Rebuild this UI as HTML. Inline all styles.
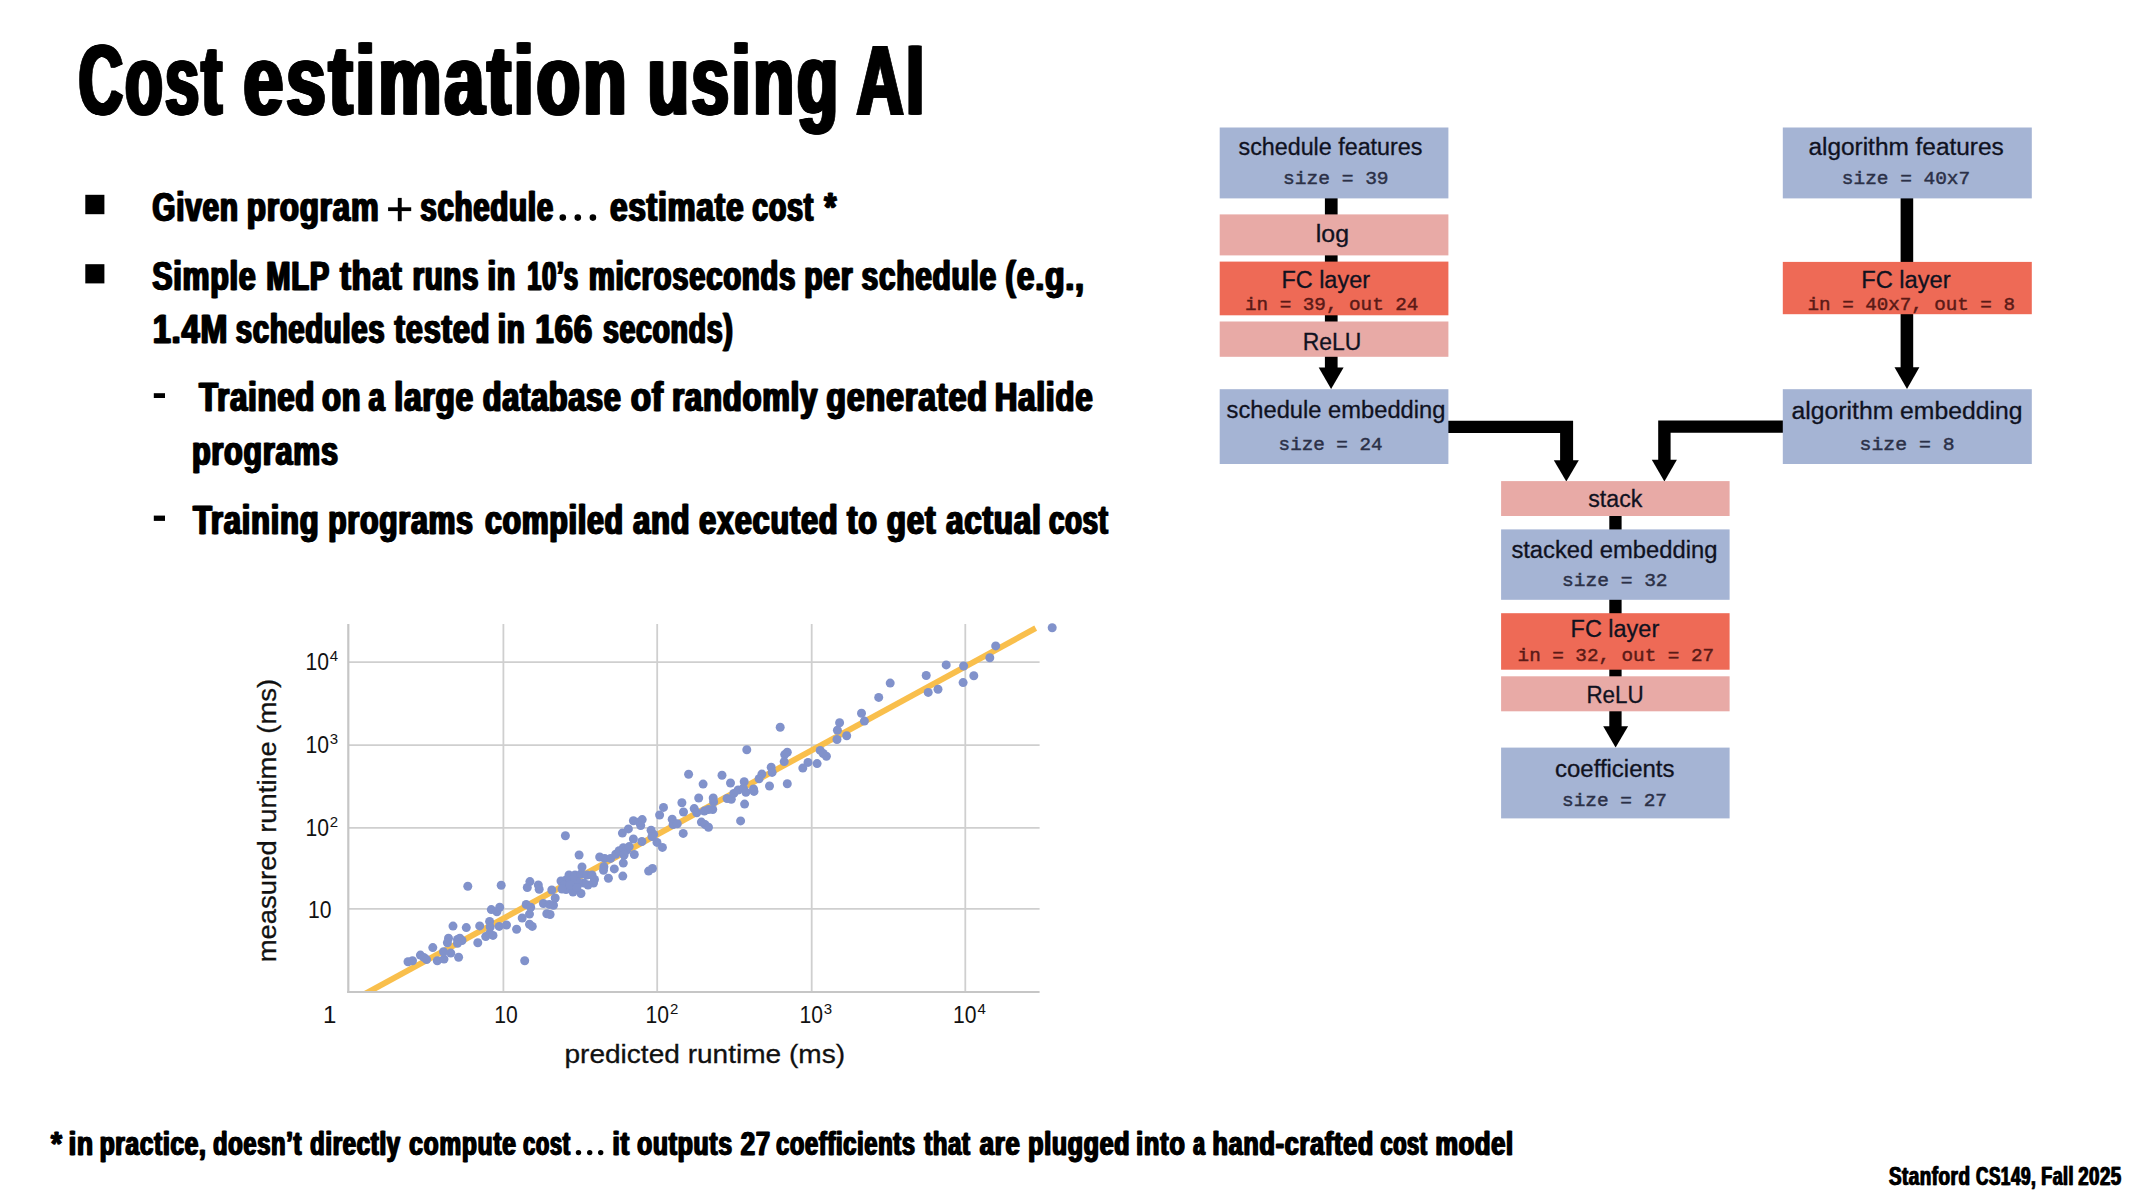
<!DOCTYPE html>
<html><head><meta charset="utf-8"><title>Cost estimation using AI</title>
<style>
html,body{margin:0;padding:0;background:#fff;}
body{width:2133px;height:1200px;overflow:hidden;font-family:"Liberation Sans", sans-serif;}
svg{display:block;}
text{white-space:pre;}
</style></head>
<body>
<svg width="2133" height="1200" viewBox="0 0 2133 1200">
<rect width="2133" height="1200" fill="#fff"/>
<text transform="translate(77.00,114.4) scale(0.6232,1)" font-family='"Liberation Sans", sans-serif' font-size="98" font-weight="bold" letter-spacing="4" fill="#000" stroke="#000" stroke-width="1.0" stroke-linejoin="miter">Cost</text>
<text transform="translate(77.85,114.4) scale(0.6232,1)" font-family='"Liberation Sans", sans-serif' font-size="98" font-weight="bold" letter-spacing="4" fill="#000" stroke="#000" stroke-width="1.0" stroke-linejoin="miter">Cost</text>
<text transform="translate(78.70,114.4) scale(0.6232,1)" font-family='"Liberation Sans", sans-serif' font-size="98" font-weight="bold" letter-spacing="4" fill="#000" stroke="#000" stroke-width="1.0" stroke-linejoin="miter">Cost</text>
<text transform="translate(79.55,114.4) scale(0.6232,1)" font-family='"Liberation Sans", sans-serif' font-size="98" font-weight="bold" letter-spacing="4" fill="#000" stroke="#000" stroke-width="1.0" stroke-linejoin="miter">Cost</text>
<text transform="translate(80.40,114.4) scale(0.6232,1)" font-family='"Liberation Sans", sans-serif' font-size="98" font-weight="bold" letter-spacing="4" fill="#000" stroke="#000" stroke-width="1.0" stroke-linejoin="miter">Cost</text>
<text transform="translate(241.80,114.4) scale(0.7284,1)" font-family='"Liberation Sans", sans-serif' font-size="98" font-weight="bold" letter-spacing="4" fill="#000" stroke="#000" stroke-width="1.0" stroke-linejoin="miter">estimation</text>
<text transform="translate(242.65,114.4) scale(0.7284,1)" font-family='"Liberation Sans", sans-serif' font-size="98" font-weight="bold" letter-spacing="4" fill="#000" stroke="#000" stroke-width="1.0" stroke-linejoin="miter">estimation</text>
<text transform="translate(243.50,114.4) scale(0.7284,1)" font-family='"Liberation Sans", sans-serif' font-size="98" font-weight="bold" letter-spacing="4" fill="#000" stroke="#000" stroke-width="1.0" stroke-linejoin="miter">estimation</text>
<text transform="translate(244.35,114.4) scale(0.7284,1)" font-family='"Liberation Sans", sans-serif' font-size="98" font-weight="bold" letter-spacing="4" fill="#000" stroke="#000" stroke-width="1.0" stroke-linejoin="miter">estimation</text>
<text transform="translate(245.20,114.4) scale(0.7284,1)" font-family='"Liberation Sans", sans-serif' font-size="98" font-weight="bold" letter-spacing="4" fill="#000" stroke="#000" stroke-width="1.0" stroke-linejoin="miter">estimation</text>
<text transform="translate(646.00,114.4) scale(0.6866,1)" font-family='"Liberation Sans", sans-serif' font-size="98" font-weight="bold" letter-spacing="4" fill="#000" stroke="#000" stroke-width="1.0" stroke-linejoin="miter">using</text>
<text transform="translate(646.85,114.4) scale(0.6866,1)" font-family='"Liberation Sans", sans-serif' font-size="98" font-weight="bold" letter-spacing="4" fill="#000" stroke="#000" stroke-width="1.0" stroke-linejoin="miter">using</text>
<text transform="translate(647.70,114.4) scale(0.6866,1)" font-family='"Liberation Sans", sans-serif' font-size="98" font-weight="bold" letter-spacing="4" fill="#000" stroke="#000" stroke-width="1.0" stroke-linejoin="miter">using</text>
<text transform="translate(648.55,114.4) scale(0.6866,1)" font-family='"Liberation Sans", sans-serif' font-size="98" font-weight="bold" letter-spacing="4" fill="#000" stroke="#000" stroke-width="1.0" stroke-linejoin="miter">using</text>
<text transform="translate(649.40,114.4) scale(0.6866,1)" font-family='"Liberation Sans", sans-serif' font-size="98" font-weight="bold" letter-spacing="4" fill="#000" stroke="#000" stroke-width="1.0" stroke-linejoin="miter">using</text>
<text transform="translate(855.00,114.4) scale(0.6608,1)" font-family='"Liberation Sans", sans-serif' font-size="98" font-weight="bold" letter-spacing="4" fill="#000" stroke="#000" stroke-width="1.0" stroke-linejoin="miter">AI</text>
<text transform="translate(855.85,114.4) scale(0.6608,1)" font-family='"Liberation Sans", sans-serif' font-size="98" font-weight="bold" letter-spacing="4" fill="#000" stroke="#000" stroke-width="1.0" stroke-linejoin="miter">AI</text>
<text transform="translate(856.70,114.4) scale(0.6608,1)" font-family='"Liberation Sans", sans-serif' font-size="98" font-weight="bold" letter-spacing="4" fill="#000" stroke="#000" stroke-width="1.0" stroke-linejoin="miter">AI</text>
<text transform="translate(857.55,114.4) scale(0.6608,1)" font-family='"Liberation Sans", sans-serif' font-size="98" font-weight="bold" letter-spacing="4" fill="#000" stroke="#000" stroke-width="1.0" stroke-linejoin="miter">AI</text>
<text transform="translate(858.40,114.4) scale(0.6608,1)" font-family='"Liberation Sans", sans-serif' font-size="98" font-weight="bold" letter-spacing="4" fill="#000" stroke="#000" stroke-width="1.0" stroke-linejoin="miter">AI</text>
<rect x="85.3" y="194.8" width="19.1" height="19.4" fill="#000"/>
<rect x="85.3" y="264.2" width="19.1" height="19.2" fill="#000"/>
<text transform="translate(151.60,220.8) scale(0.7201,1)" font-family='"Liberation Sans", sans-serif' font-size="41" font-weight="bold" letter-spacing="1.2" fill="#000" stroke="#000" stroke-width="0.5" stroke-linejoin="miter">Given</text>
<text transform="translate(152.45,220.8) scale(0.7201,1)" font-family='"Liberation Sans", sans-serif' font-size="41" font-weight="bold" letter-spacing="1.2" fill="#000" stroke="#000" stroke-width="0.5" stroke-linejoin="miter">Given</text>
<text transform="translate(153.30,220.8) scale(0.7201,1)" font-family='"Liberation Sans", sans-serif' font-size="41" font-weight="bold" letter-spacing="1.2" fill="#000" stroke="#000" stroke-width="0.5" stroke-linejoin="miter">Given</text>
<text transform="translate(246.00,220.8) scale(0.7602,1)" font-family='"Liberation Sans", sans-serif' font-size="41" font-weight="bold" letter-spacing="1.2" fill="#000" stroke="#000" stroke-width="0.5" stroke-linejoin="miter">program</text>
<text transform="translate(246.85,220.8) scale(0.7602,1)" font-family='"Liberation Sans", sans-serif' font-size="41" font-weight="bold" letter-spacing="1.2" fill="#000" stroke="#000" stroke-width="0.5" stroke-linejoin="miter">program</text>
<text transform="translate(247.70,220.8) scale(0.7602,1)" font-family='"Liberation Sans", sans-serif' font-size="41" font-weight="bold" letter-spacing="1.2" fill="#000" stroke="#000" stroke-width="0.5" stroke-linejoin="miter">program</text>
<text transform="translate(419.60,220.8) scale(0.7129,1)" font-family='"Liberation Sans", sans-serif' font-size="41" font-weight="bold" letter-spacing="1.2" fill="#000" stroke="#000" stroke-width="0.5" stroke-linejoin="miter">schedule</text>
<text transform="translate(420.45,220.8) scale(0.7129,1)" font-family='"Liberation Sans", sans-serif' font-size="41" font-weight="bold" letter-spacing="1.2" fill="#000" stroke="#000" stroke-width="0.5" stroke-linejoin="miter">schedule</text>
<text transform="translate(421.30,220.8) scale(0.7129,1)" font-family='"Liberation Sans", sans-serif' font-size="41" font-weight="bold" letter-spacing="1.2" fill="#000" stroke="#000" stroke-width="0.5" stroke-linejoin="miter">schedule</text>
<text transform="translate(609.20,220.8) scale(0.7639,1)" font-family='"Liberation Sans", sans-serif' font-size="41" font-weight="bold" letter-spacing="1.2" fill="#000" stroke="#000" stroke-width="0.5" stroke-linejoin="miter">estimate</text>
<text transform="translate(610.05,220.8) scale(0.7639,1)" font-family='"Liberation Sans", sans-serif' font-size="41" font-weight="bold" letter-spacing="1.2" fill="#000" stroke="#000" stroke-width="0.5" stroke-linejoin="miter">estimate</text>
<text transform="translate(610.90,220.8) scale(0.7639,1)" font-family='"Liberation Sans", sans-serif' font-size="41" font-weight="bold" letter-spacing="1.2" fill="#000" stroke="#000" stroke-width="0.5" stroke-linejoin="miter">estimate</text>
<text transform="translate(751.40,220.8) scale(0.6939,1)" font-family='"Liberation Sans", sans-serif' font-size="41" font-weight="bold" letter-spacing="1.2" fill="#000" stroke="#000" stroke-width="0.5" stroke-linejoin="miter">cost</text>
<text transform="translate(752.25,220.8) scale(0.6939,1)" font-family='"Liberation Sans", sans-serif' font-size="41" font-weight="bold" letter-spacing="1.2" fill="#000" stroke="#000" stroke-width="0.5" stroke-linejoin="miter">cost</text>
<text transform="translate(753.10,220.8) scale(0.6939,1)" font-family='"Liberation Sans", sans-serif' font-size="41" font-weight="bold" letter-spacing="1.2" fill="#000" stroke="#000" stroke-width="0.5" stroke-linejoin="miter">cost</text>
<text transform="translate(823.50,220.8) scale(0.7458,1)" font-family='"Liberation Sans", sans-serif' font-size="41" font-weight="bold" letter-spacing="1.2" fill="#000" stroke="#000" stroke-width="0.5" stroke-linejoin="miter">*</text>
<text transform="translate(824.35,220.8) scale(0.7458,1)" font-family='"Liberation Sans", sans-serif' font-size="41" font-weight="bold" letter-spacing="1.2" fill="#000" stroke="#000" stroke-width="0.5" stroke-linejoin="miter">*</text>
<text transform="translate(825.20,220.8) scale(0.7458,1)" font-family='"Liberation Sans", sans-serif' font-size="41" font-weight="bold" letter-spacing="1.2" fill="#000" stroke="#000" stroke-width="0.5" stroke-linejoin="miter">*</text>
<text transform="translate(151.60,290.4) scale(0.7348,1)" font-family='"Liberation Sans", sans-serif' font-size="41" font-weight="bold" letter-spacing="1.2" fill="#000" stroke="#000" stroke-width="0.5" stroke-linejoin="miter">Simple</text>
<text transform="translate(152.45,290.4) scale(0.7348,1)" font-family='"Liberation Sans", sans-serif' font-size="41" font-weight="bold" letter-spacing="1.2" fill="#000" stroke="#000" stroke-width="0.5" stroke-linejoin="miter">Simple</text>
<text transform="translate(153.30,290.4) scale(0.7348,1)" font-family='"Liberation Sans", sans-serif' font-size="41" font-weight="bold" letter-spacing="1.2" fill="#000" stroke="#000" stroke-width="0.5" stroke-linejoin="miter">Simple</text>
<text transform="translate(265.60,290.4) scale(0.7048,1)" font-family='"Liberation Sans", sans-serif' font-size="41" font-weight="bold" letter-spacing="1.2" fill="#000" stroke="#000" stroke-width="0.5" stroke-linejoin="miter">MLP</text>
<text transform="translate(266.45,290.4) scale(0.7048,1)" font-family='"Liberation Sans", sans-serif' font-size="41" font-weight="bold" letter-spacing="1.2" fill="#000" stroke="#000" stroke-width="0.5" stroke-linejoin="miter">MLP</text>
<text transform="translate(267.30,290.4) scale(0.7048,1)" font-family='"Liberation Sans", sans-serif' font-size="41" font-weight="bold" letter-spacing="1.2" fill="#000" stroke="#000" stroke-width="0.5" stroke-linejoin="miter">MLP</text>
<text transform="translate(339.20,290.4) scale(0.7833,1)" font-family='"Liberation Sans", sans-serif' font-size="41" font-weight="bold" letter-spacing="1.2" fill="#000" stroke="#000" stroke-width="0.5" stroke-linejoin="miter">that</text>
<text transform="translate(340.05,290.4) scale(0.7833,1)" font-family='"Liberation Sans", sans-serif' font-size="41" font-weight="bold" letter-spacing="1.2" fill="#000" stroke="#000" stroke-width="0.5" stroke-linejoin="miter">that</text>
<text transform="translate(340.90,290.4) scale(0.7833,1)" font-family='"Liberation Sans", sans-serif' font-size="41" font-weight="bold" letter-spacing="1.2" fill="#000" stroke="#000" stroke-width="0.5" stroke-linejoin="miter">that</text>
<text transform="translate(411.80,290.4) scale(0.7106,1)" font-family='"Liberation Sans", sans-serif' font-size="41" font-weight="bold" letter-spacing="1.2" fill="#000" stroke="#000" stroke-width="0.5" stroke-linejoin="miter">runs</text>
<text transform="translate(412.65,290.4) scale(0.7106,1)" font-family='"Liberation Sans", sans-serif' font-size="41" font-weight="bold" letter-spacing="1.2" fill="#000" stroke="#000" stroke-width="0.5" stroke-linejoin="miter">runs</text>
<text transform="translate(413.50,290.4) scale(0.7106,1)" font-family='"Liberation Sans", sans-serif' font-size="41" font-weight="bold" letter-spacing="1.2" fill="#000" stroke="#000" stroke-width="0.5" stroke-linejoin="miter">runs</text>
<text transform="translate(486.80,290.4) scale(0.7305,1)" font-family='"Liberation Sans", sans-serif' font-size="41" font-weight="bold" letter-spacing="1.2" fill="#000" stroke="#000" stroke-width="0.5" stroke-linejoin="miter">in</text>
<text transform="translate(487.65,290.4) scale(0.7305,1)" font-family='"Liberation Sans", sans-serif' font-size="41" font-weight="bold" letter-spacing="1.2" fill="#000" stroke="#000" stroke-width="0.5" stroke-linejoin="miter">in</text>
<text transform="translate(488.50,290.4) scale(0.7305,1)" font-family='"Liberation Sans", sans-serif' font-size="41" font-weight="bold" letter-spacing="1.2" fill="#000" stroke="#000" stroke-width="0.5" stroke-linejoin="miter">in</text>
<text transform="translate(526.40,290.4) scale(0.6192,1)" font-family='"Liberation Sans", sans-serif' font-size="41" font-weight="bold" letter-spacing="1.2" fill="#000" stroke="#000" stroke-width="0.5" stroke-linejoin="miter">10’s</text>
<text transform="translate(527.25,290.4) scale(0.6192,1)" font-family='"Liberation Sans", sans-serif' font-size="41" font-weight="bold" letter-spacing="1.2" fill="#000" stroke="#000" stroke-width="0.5" stroke-linejoin="miter">10’s</text>
<text transform="translate(528.10,290.4) scale(0.6192,1)" font-family='"Liberation Sans", sans-serif' font-size="41" font-weight="bold" letter-spacing="1.2" fill="#000" stroke="#000" stroke-width="0.5" stroke-linejoin="miter">10’s</text>
<text transform="translate(588.00,290.4) scale(0.7091,1)" font-family='"Liberation Sans", sans-serif' font-size="41" font-weight="bold" letter-spacing="1.2" fill="#000" stroke="#000" stroke-width="0.5" stroke-linejoin="miter">microseconds</text>
<text transform="translate(588.85,290.4) scale(0.7091,1)" font-family='"Liberation Sans", sans-serif' font-size="41" font-weight="bold" letter-spacing="1.2" fill="#000" stroke="#000" stroke-width="0.5" stroke-linejoin="miter">microseconds</text>
<text transform="translate(589.70,290.4) scale(0.7091,1)" font-family='"Liberation Sans", sans-serif' font-size="41" font-weight="bold" letter-spacing="1.2" fill="#000" stroke="#000" stroke-width="0.5" stroke-linejoin="miter">microseconds</text>
<text transform="translate(803.60,290.4) scale(0.7235,1)" font-family='"Liberation Sans", sans-serif' font-size="41" font-weight="bold" letter-spacing="1.2" fill="#000" stroke="#000" stroke-width="0.5" stroke-linejoin="miter">per</text>
<text transform="translate(804.45,290.4) scale(0.7235,1)" font-family='"Liberation Sans", sans-serif' font-size="41" font-weight="bold" letter-spacing="1.2" fill="#000" stroke="#000" stroke-width="0.5" stroke-linejoin="miter">per</text>
<text transform="translate(805.30,290.4) scale(0.7235,1)" font-family='"Liberation Sans", sans-serif' font-size="41" font-weight="bold" letter-spacing="1.2" fill="#000" stroke="#000" stroke-width="0.5" stroke-linejoin="miter">per</text>
<text transform="translate(860.80,290.4) scale(0.7226,1)" font-family='"Liberation Sans", sans-serif' font-size="41" font-weight="bold" letter-spacing="1.2" fill="#000" stroke="#000" stroke-width="0.5" stroke-linejoin="miter">schedule</text>
<text transform="translate(861.65,290.4) scale(0.7226,1)" font-family='"Liberation Sans", sans-serif' font-size="41" font-weight="bold" letter-spacing="1.2" fill="#000" stroke="#000" stroke-width="0.5" stroke-linejoin="miter">schedule</text>
<text transform="translate(862.50,290.4) scale(0.7226,1)" font-family='"Liberation Sans", sans-serif' font-size="41" font-weight="bold" letter-spacing="1.2" fill="#000" stroke="#000" stroke-width="0.5" stroke-linejoin="miter">schedule</text>
<text transform="translate(1004.40,290.4) scale(0.7740,1)" font-family='"Liberation Sans", sans-serif' font-size="41" font-weight="bold" letter-spacing="1.2" fill="#000" stroke="#000" stroke-width="0.5" stroke-linejoin="miter">(e.g.,</text>
<text transform="translate(1005.25,290.4) scale(0.7740,1)" font-family='"Liberation Sans", sans-serif' font-size="41" font-weight="bold" letter-spacing="1.2" fill="#000" stroke="#000" stroke-width="0.5" stroke-linejoin="miter">(e.g.,</text>
<text transform="translate(1006.10,290.4) scale(0.7740,1)" font-family='"Liberation Sans", sans-serif' font-size="41" font-weight="bold" letter-spacing="1.2" fill="#000" stroke="#000" stroke-width="0.5" stroke-linejoin="miter">(e.g.,</text>
<text transform="translate(152.00,343.2) scale(0.7863,1)" font-family='"Liberation Sans", sans-serif' font-size="41" font-weight="bold" letter-spacing="1.2" fill="#000" stroke="#000" stroke-width="0.5" stroke-linejoin="miter">1.4M</text>
<text transform="translate(152.85,343.2) scale(0.7863,1)" font-family='"Liberation Sans", sans-serif' font-size="41" font-weight="bold" letter-spacing="1.2" fill="#000" stroke="#000" stroke-width="0.5" stroke-linejoin="miter">1.4M</text>
<text transform="translate(153.70,343.2) scale(0.7863,1)" font-family='"Liberation Sans", sans-serif' font-size="41" font-weight="bold" letter-spacing="1.2" fill="#000" stroke="#000" stroke-width="0.5" stroke-linejoin="miter">1.4M</text>
<text transform="translate(235.00,343.2) scale(0.7076,1)" font-family='"Liberation Sans", sans-serif' font-size="41" font-weight="bold" letter-spacing="1.2" fill="#000" stroke="#000" stroke-width="0.5" stroke-linejoin="miter">schedules</text>
<text transform="translate(235.85,343.2) scale(0.7076,1)" font-family='"Liberation Sans", sans-serif' font-size="41" font-weight="bold" letter-spacing="1.2" fill="#000" stroke="#000" stroke-width="0.5" stroke-linejoin="miter">schedules</text>
<text transform="translate(236.70,343.2) scale(0.7076,1)" font-family='"Liberation Sans", sans-serif' font-size="41" font-weight="bold" letter-spacing="1.2" fill="#000" stroke="#000" stroke-width="0.5" stroke-linejoin="miter">schedules</text>
<text transform="translate(393.80,343.2) scale(0.7486,1)" font-family='"Liberation Sans", sans-serif' font-size="41" font-weight="bold" letter-spacing="1.2" fill="#000" stroke="#000" stroke-width="0.5" stroke-linejoin="miter">tested</text>
<text transform="translate(394.65,343.2) scale(0.7486,1)" font-family='"Liberation Sans", sans-serif' font-size="41" font-weight="bold" letter-spacing="1.2" fill="#000" stroke="#000" stroke-width="0.5" stroke-linejoin="miter">tested</text>
<text transform="translate(395.50,343.2) scale(0.7486,1)" font-family='"Liberation Sans", sans-serif' font-size="41" font-weight="bold" letter-spacing="1.2" fill="#000" stroke="#000" stroke-width="0.5" stroke-linejoin="miter">tested</text>
<text transform="translate(497.00,343.2) scale(0.7093,1)" font-family='"Liberation Sans", sans-serif' font-size="41" font-weight="bold" letter-spacing="1.2" fill="#000" stroke="#000" stroke-width="0.5" stroke-linejoin="miter">in</text>
<text transform="translate(497.85,343.2) scale(0.7093,1)" font-family='"Liberation Sans", sans-serif' font-size="41" font-weight="bold" letter-spacing="1.2" fill="#000" stroke="#000" stroke-width="0.5" stroke-linejoin="miter">in</text>
<text transform="translate(498.70,343.2) scale(0.7093,1)" font-family='"Liberation Sans", sans-serif' font-size="41" font-weight="bold" letter-spacing="1.2" fill="#000" stroke="#000" stroke-width="0.5" stroke-linejoin="miter">in</text>
<text transform="translate(534.60,343.2) scale(0.8007,1)" font-family='"Liberation Sans", sans-serif' font-size="41" font-weight="bold" letter-spacing="1.2" fill="#000" stroke="#000" stroke-width="0.5" stroke-linejoin="miter">166</text>
<text transform="translate(535.45,343.2) scale(0.8007,1)" font-family='"Liberation Sans", sans-serif' font-size="41" font-weight="bold" letter-spacing="1.2" fill="#000" stroke="#000" stroke-width="0.5" stroke-linejoin="miter">166</text>
<text transform="translate(536.30,343.2) scale(0.8007,1)" font-family='"Liberation Sans", sans-serif' font-size="41" font-weight="bold" letter-spacing="1.2" fill="#000" stroke="#000" stroke-width="0.5" stroke-linejoin="miter">166</text>
<text transform="translate(602.20,343.2) scale(0.6884,1)" font-family='"Liberation Sans", sans-serif' font-size="41" font-weight="bold" letter-spacing="1.2" fill="#000" stroke="#000" stroke-width="0.5" stroke-linejoin="miter">seconds)</text>
<text transform="translate(603.05,343.2) scale(0.6884,1)" font-family='"Liberation Sans", sans-serif' font-size="41" font-weight="bold" letter-spacing="1.2" fill="#000" stroke="#000" stroke-width="0.5" stroke-linejoin="miter">seconds)</text>
<text transform="translate(603.90,343.2) scale(0.6884,1)" font-family='"Liberation Sans", sans-serif' font-size="41" font-weight="bold" letter-spacing="1.2" fill="#000" stroke="#000" stroke-width="0.5" stroke-linejoin="miter">seconds)</text>
<rect x="388.1" y="207.3" width="23.1" height="3.8" fill="#000"/>
<rect x="397.8" y="197.9" width="3.9" height="23.3" fill="#000"/>
<circle cx="562.8" cy="217.6" r="3.3" fill="#000"/>
<circle cx="577.8" cy="217.6" r="3.3" fill="#000"/>
<circle cx="592.9" cy="217.6" r="3.3" fill="#000"/>
<circle cx="578.5" cy="1152.6" r="2.7" fill="#000"/>
<circle cx="589.7" cy="1152.6" r="2.7" fill="#000"/>
<circle cx="600.7" cy="1152.6" r="2.7" fill="#000"/>
<rect x="153.8" y="393.2" width="11.2" height="4.8" fill="#000"/>
<text transform="translate(198.30,411.2) scale(0.7528,1)" font-family='"Liberation Sans", sans-serif' font-size="41" font-weight="bold" letter-spacing="1.2" fill="#000" stroke="#000" stroke-width="0.5" stroke-linejoin="miter">Trained</text>
<text transform="translate(199.15,411.2) scale(0.7528,1)" font-family='"Liberation Sans", sans-serif' font-size="41" font-weight="bold" letter-spacing="1.2" fill="#000" stroke="#000" stroke-width="0.5" stroke-linejoin="miter">Trained</text>
<text transform="translate(200.00,411.2) scale(0.7528,1)" font-family='"Liberation Sans", sans-serif' font-size="41" font-weight="bold" letter-spacing="1.2" fill="#000" stroke="#000" stroke-width="0.5" stroke-linejoin="miter">Trained</text>
<text transform="translate(321.20,411.2) scale(0.7505,1)" font-family='"Liberation Sans", sans-serif' font-size="41" font-weight="bold" letter-spacing="1.2" fill="#000" stroke="#000" stroke-width="0.5" stroke-linejoin="miter">on</text>
<text transform="translate(322.05,411.2) scale(0.7505,1)" font-family='"Liberation Sans", sans-serif' font-size="41" font-weight="bold" letter-spacing="1.2" fill="#000" stroke="#000" stroke-width="0.5" stroke-linejoin="miter">on</text>
<text transform="translate(322.90,411.2) scale(0.7505,1)" font-family='"Liberation Sans", sans-serif' font-size="41" font-weight="bold" letter-spacing="1.2" fill="#000" stroke="#000" stroke-width="0.5" stroke-linejoin="miter">on</text>
<text transform="translate(367.80,411.2) scale(0.7013,1)" font-family='"Liberation Sans", sans-serif' font-size="41" font-weight="bold" letter-spacing="1.2" fill="#000" stroke="#000" stroke-width="0.5" stroke-linejoin="miter">a</text>
<text transform="translate(368.65,411.2) scale(0.7013,1)" font-family='"Liberation Sans", sans-serif' font-size="41" font-weight="bold" letter-spacing="1.2" fill="#000" stroke="#000" stroke-width="0.5" stroke-linejoin="miter">a</text>
<text transform="translate(369.50,411.2) scale(0.7013,1)" font-family='"Liberation Sans", sans-serif' font-size="41" font-weight="bold" letter-spacing="1.2" fill="#000" stroke="#000" stroke-width="0.5" stroke-linejoin="miter">a</text>
<text transform="translate(393.60,411.2) scale(0.7656,1)" font-family='"Liberation Sans", sans-serif' font-size="41" font-weight="bold" letter-spacing="1.2" fill="#000" stroke="#000" stroke-width="0.5" stroke-linejoin="miter">large</text>
<text transform="translate(394.45,411.2) scale(0.7656,1)" font-family='"Liberation Sans", sans-serif' font-size="41" font-weight="bold" letter-spacing="1.2" fill="#000" stroke="#000" stroke-width="0.5" stroke-linejoin="miter">large</text>
<text transform="translate(395.30,411.2) scale(0.7656,1)" font-family='"Liberation Sans", sans-serif' font-size="41" font-weight="bold" letter-spacing="1.2" fill="#000" stroke="#000" stroke-width="0.5" stroke-linejoin="miter">large</text>
<text transform="translate(482.00,411.2) scale(0.7413,1)" font-family='"Liberation Sans", sans-serif' font-size="41" font-weight="bold" letter-spacing="1.2" fill="#000" stroke="#000" stroke-width="0.5" stroke-linejoin="miter">database</text>
<text transform="translate(482.85,411.2) scale(0.7413,1)" font-family='"Liberation Sans", sans-serif' font-size="41" font-weight="bold" letter-spacing="1.2" fill="#000" stroke="#000" stroke-width="0.5" stroke-linejoin="miter">database</text>
<text transform="translate(483.70,411.2) scale(0.7413,1)" font-family='"Liberation Sans", sans-serif' font-size="41" font-weight="bold" letter-spacing="1.2" fill="#000" stroke="#000" stroke-width="0.5" stroke-linejoin="miter">database</text>
<text transform="translate(630.00,411.2) scale(0.8043,1)" font-family='"Liberation Sans", sans-serif' font-size="41" font-weight="bold" letter-spacing="1.2" fill="#000" stroke="#000" stroke-width="0.5" stroke-linejoin="miter">of</text>
<text transform="translate(630.85,411.2) scale(0.8043,1)" font-family='"Liberation Sans", sans-serif' font-size="41" font-weight="bold" letter-spacing="1.2" fill="#000" stroke="#000" stroke-width="0.5" stroke-linejoin="miter">of</text>
<text transform="translate(631.70,411.2) scale(0.8043,1)" font-family='"Liberation Sans", sans-serif' font-size="41" font-weight="bold" letter-spacing="1.2" fill="#000" stroke="#000" stroke-width="0.5" stroke-linejoin="miter">of</text>
<text transform="translate(671.20,411.2) scale(0.7531,1)" font-family='"Liberation Sans", sans-serif' font-size="41" font-weight="bold" letter-spacing="1.2" fill="#000" stroke="#000" stroke-width="0.5" stroke-linejoin="miter">randomly</text>
<text transform="translate(672.05,411.2) scale(0.7531,1)" font-family='"Liberation Sans", sans-serif' font-size="41" font-weight="bold" letter-spacing="1.2" fill="#000" stroke="#000" stroke-width="0.5" stroke-linejoin="miter">randomly</text>
<text transform="translate(672.90,411.2) scale(0.7531,1)" font-family='"Liberation Sans", sans-serif' font-size="41" font-weight="bold" letter-spacing="1.2" fill="#000" stroke="#000" stroke-width="0.5" stroke-linejoin="miter">randomly</text>
<text transform="translate(825.60,411.2) scale(0.7808,1)" font-family='"Liberation Sans", sans-serif' font-size="41" font-weight="bold" letter-spacing="1.2" fill="#000" stroke="#000" stroke-width="0.5" stroke-linejoin="miter">generated</text>
<text transform="translate(826.45,411.2) scale(0.7808,1)" font-family='"Liberation Sans", sans-serif' font-size="41" font-weight="bold" letter-spacing="1.2" fill="#000" stroke="#000" stroke-width="0.5" stroke-linejoin="miter">generated</text>
<text transform="translate(827.30,411.2) scale(0.7808,1)" font-family='"Liberation Sans", sans-serif' font-size="41" font-weight="bold" letter-spacing="1.2" fill="#000" stroke="#000" stroke-width="0.5" stroke-linejoin="miter">generated</text>
<text transform="translate(994.00,411.2) scale(0.7586,1)" font-family='"Liberation Sans", sans-serif' font-size="41" font-weight="bold" letter-spacing="1.2" fill="#000" stroke="#000" stroke-width="0.5" stroke-linejoin="miter">Halide</text>
<text transform="translate(994.85,411.2) scale(0.7586,1)" font-family='"Liberation Sans", sans-serif' font-size="41" font-weight="bold" letter-spacing="1.2" fill="#000" stroke="#000" stroke-width="0.5" stroke-linejoin="miter">Halide</text>
<text transform="translate(995.70,411.2) scale(0.7586,1)" font-family='"Liberation Sans", sans-serif' font-size="41" font-weight="bold" letter-spacing="1.2" fill="#000" stroke="#000" stroke-width="0.5" stroke-linejoin="miter">Halide</text>
<text transform="translate(191.20,464.6) scale(0.7387,1)" font-family='"Liberation Sans", sans-serif' font-size="41" font-weight="bold" letter-spacing="1.2" fill="#000" stroke="#000" stroke-width="0.5" stroke-linejoin="miter">programs</text>
<text transform="translate(192.05,464.6) scale(0.7387,1)" font-family='"Liberation Sans", sans-serif' font-size="41" font-weight="bold" letter-spacing="1.2" fill="#000" stroke="#000" stroke-width="0.5" stroke-linejoin="miter">programs</text>
<text transform="translate(192.90,464.6) scale(0.7387,1)" font-family='"Liberation Sans", sans-serif' font-size="41" font-weight="bold" letter-spacing="1.2" fill="#000" stroke="#000" stroke-width="0.5" stroke-linejoin="miter">programs</text>
<rect x="153.8" y="515.6" width="11.2" height="5.3" fill="#000"/>
<text transform="translate(192.20,534.4) scale(0.7476,1)" font-family='"Liberation Sans", sans-serif' font-size="41" font-weight="bold" letter-spacing="1.2" fill="#000" stroke="#000" stroke-width="0.5" stroke-linejoin="miter">Training</text>
<text transform="translate(193.05,534.4) scale(0.7476,1)" font-family='"Liberation Sans", sans-serif' font-size="41" font-weight="bold" letter-spacing="1.2" fill="#000" stroke="#000" stroke-width="0.5" stroke-linejoin="miter">Training</text>
<text transform="translate(193.90,534.4) scale(0.7476,1)" font-family='"Liberation Sans", sans-serif' font-size="41" font-weight="bold" letter-spacing="1.2" fill="#000" stroke="#000" stroke-width="0.5" stroke-linejoin="miter">Training</text>
<text transform="translate(327.40,534.4) scale(0.7326,1)" font-family='"Liberation Sans", sans-serif' font-size="41" font-weight="bold" letter-spacing="1.2" fill="#000" stroke="#000" stroke-width="0.5" stroke-linejoin="miter">programs</text>
<text transform="translate(328.25,534.4) scale(0.7326,1)" font-family='"Liberation Sans", sans-serif' font-size="41" font-weight="bold" letter-spacing="1.2" fill="#000" stroke="#000" stroke-width="0.5" stroke-linejoin="miter">programs</text>
<text transform="translate(329.10,534.4) scale(0.7326,1)" font-family='"Liberation Sans", sans-serif' font-size="41" font-weight="bold" letter-spacing="1.2" fill="#000" stroke="#000" stroke-width="0.5" stroke-linejoin="miter">programs</text>
<text transform="translate(484.20,534.4) scale(0.7331,1)" font-family='"Liberation Sans", sans-serif' font-size="41" font-weight="bold" letter-spacing="1.2" fill="#000" stroke="#000" stroke-width="0.5" stroke-linejoin="miter">compiled</text>
<text transform="translate(485.05,534.4) scale(0.7331,1)" font-family='"Liberation Sans", sans-serif' font-size="41" font-weight="bold" letter-spacing="1.2" fill="#000" stroke="#000" stroke-width="0.5" stroke-linejoin="miter">compiled</text>
<text transform="translate(485.90,534.4) scale(0.7331,1)" font-family='"Liberation Sans", sans-serif' font-size="41" font-weight="bold" letter-spacing="1.2" fill="#000" stroke="#000" stroke-width="0.5" stroke-linejoin="miter">compiled</text>
<text transform="translate(632.20,534.4) scale(0.7503,1)" font-family='"Liberation Sans", sans-serif' font-size="41" font-weight="bold" letter-spacing="1.2" fill="#000" stroke="#000" stroke-width="0.5" stroke-linejoin="miter">and</text>
<text transform="translate(633.05,534.4) scale(0.7503,1)" font-family='"Liberation Sans", sans-serif' font-size="41" font-weight="bold" letter-spacing="1.2" fill="#000" stroke="#000" stroke-width="0.5" stroke-linejoin="miter">and</text>
<text transform="translate(633.90,534.4) scale(0.7503,1)" font-family='"Liberation Sans", sans-serif' font-size="41" font-weight="bold" letter-spacing="1.2" fill="#000" stroke="#000" stroke-width="0.5" stroke-linejoin="miter">and</text>
<text transform="translate(698.30,534.4) scale(0.7434,1)" font-family='"Liberation Sans", sans-serif' font-size="41" font-weight="bold" letter-spacing="1.2" fill="#000" stroke="#000" stroke-width="0.5" stroke-linejoin="miter">executed</text>
<text transform="translate(699.15,534.4) scale(0.7434,1)" font-family='"Liberation Sans", sans-serif' font-size="41" font-weight="bold" letter-spacing="1.2" fill="#000" stroke="#000" stroke-width="0.5" stroke-linejoin="miter">executed</text>
<text transform="translate(700.00,534.4) scale(0.7434,1)" font-family='"Liberation Sans", sans-serif' font-size="41" font-weight="bold" letter-spacing="1.2" fill="#000" stroke="#000" stroke-width="0.5" stroke-linejoin="miter">executed</text>
<text transform="translate(846.30,534.4) scale(0.7467,1)" font-family='"Liberation Sans", sans-serif' font-size="41" font-weight="bold" letter-spacing="1.2" fill="#000" stroke="#000" stroke-width="0.5" stroke-linejoin="miter">to</text>
<text transform="translate(847.15,534.4) scale(0.7467,1)" font-family='"Liberation Sans", sans-serif' font-size="41" font-weight="bold" letter-spacing="1.2" fill="#000" stroke="#000" stroke-width="0.5" stroke-linejoin="miter">to</text>
<text transform="translate(848.00,534.4) scale(0.7467,1)" font-family='"Liberation Sans", sans-serif' font-size="41" font-weight="bold" letter-spacing="1.2" fill="#000" stroke="#000" stroke-width="0.5" stroke-linejoin="miter">to</text>
<text transform="translate(886.10,534.4) scale(0.7589,1)" font-family='"Liberation Sans", sans-serif' font-size="41" font-weight="bold" letter-spacing="1.2" fill="#000" stroke="#000" stroke-width="0.5" stroke-linejoin="miter">get</text>
<text transform="translate(886.95,534.4) scale(0.7589,1)" font-family='"Liberation Sans", sans-serif' font-size="41" font-weight="bold" letter-spacing="1.2" fill="#000" stroke="#000" stroke-width="0.5" stroke-linejoin="miter">get</text>
<text transform="translate(887.80,534.4) scale(0.7589,1)" font-family='"Liberation Sans", sans-serif' font-size="41" font-weight="bold" letter-spacing="1.2" fill="#000" stroke="#000" stroke-width="0.5" stroke-linejoin="miter">get</text>
<text transform="translate(945.30,534.4) scale(0.7598,1)" font-family='"Liberation Sans", sans-serif' font-size="41" font-weight="bold" letter-spacing="1.2" fill="#000" stroke="#000" stroke-width="0.5" stroke-linejoin="miter">actual</text>
<text transform="translate(946.15,534.4) scale(0.7598,1)" font-family='"Liberation Sans", sans-serif' font-size="41" font-weight="bold" letter-spacing="1.2" fill="#000" stroke="#000" stroke-width="0.5" stroke-linejoin="miter">actual</text>
<text transform="translate(947.00,534.4) scale(0.7598,1)" font-family='"Liberation Sans", sans-serif' font-size="41" font-weight="bold" letter-spacing="1.2" fill="#000" stroke="#000" stroke-width="0.5" stroke-linejoin="miter">actual</text>
<text transform="translate(1048.20,534.4) scale(0.6700,1)" font-family='"Liberation Sans", sans-serif' font-size="41" font-weight="bold" letter-spacing="1.2" fill="#000" stroke="#000" stroke-width="0.5" stroke-linejoin="miter">cost</text>
<text transform="translate(1049.05,534.4) scale(0.6700,1)" font-family='"Liberation Sans", sans-serif' font-size="41" font-weight="bold" letter-spacing="1.2" fill="#000" stroke="#000" stroke-width="0.5" stroke-linejoin="miter">cost</text>
<text transform="translate(1049.90,534.4) scale(0.6700,1)" font-family='"Liberation Sans", sans-serif' font-size="41" font-weight="bold" letter-spacing="1.2" fill="#000" stroke="#000" stroke-width="0.5" stroke-linejoin="miter">cost</text>
<text transform="translate(50.20,1155.3) scale(0.8770,1)" font-family='"Liberation Sans", sans-serif' font-size="32.5" font-weight="bold" letter-spacing="1.0" fill="#000" stroke="#000" stroke-width="0.4" stroke-linejoin="miter">*</text>
<text transform="translate(50.90,1155.3) scale(0.8770,1)" font-family='"Liberation Sans", sans-serif' font-size="32.5" font-weight="bold" letter-spacing="1.0" fill="#000" stroke="#000" stroke-width="0.4" stroke-linejoin="miter">*</text>
<text transform="translate(51.60,1155.3) scale(0.8770,1)" font-family='"Liberation Sans", sans-serif' font-size="32.5" font-weight="bold" letter-spacing="1.0" fill="#000" stroke="#000" stroke-width="0.4" stroke-linejoin="miter">*</text>
<text transform="translate(68.00,1155.3) scale(0.8163,1)" font-family='"Liberation Sans", sans-serif' font-size="32.5" font-weight="bold" letter-spacing="1.0" fill="#000" stroke="#000" stroke-width="0.4" stroke-linejoin="miter">in</text>
<text transform="translate(68.70,1155.3) scale(0.8163,1)" font-family='"Liberation Sans", sans-serif' font-size="32.5" font-weight="bold" letter-spacing="1.0" fill="#000" stroke="#000" stroke-width="0.4" stroke-linejoin="miter">in</text>
<text transform="translate(69.40,1155.3) scale(0.8163,1)" font-family='"Liberation Sans", sans-serif' font-size="32.5" font-weight="bold" letter-spacing="1.0" fill="#000" stroke="#000" stroke-width="0.4" stroke-linejoin="miter">in</text>
<text transform="translate(99.00,1155.3) scale(0.7495,1)" font-family='"Liberation Sans", sans-serif' font-size="32.5" font-weight="bold" letter-spacing="1.0" fill="#000" stroke="#000" stroke-width="0.4" stroke-linejoin="miter">practice,</text>
<text transform="translate(99.70,1155.3) scale(0.7495,1)" font-family='"Liberation Sans", sans-serif' font-size="32.5" font-weight="bold" letter-spacing="1.0" fill="#000" stroke="#000" stroke-width="0.4" stroke-linejoin="miter">practice,</text>
<text transform="translate(100.40,1155.3) scale(0.7495,1)" font-family='"Liberation Sans", sans-serif' font-size="32.5" font-weight="bold" letter-spacing="1.0" fill="#000" stroke="#000" stroke-width="0.4" stroke-linejoin="miter">practice,</text>
<text transform="translate(212.40,1155.3) scale(0.7264,1)" font-family='"Liberation Sans", sans-serif' font-size="32.5" font-weight="bold" letter-spacing="1.0" fill="#000" stroke="#000" stroke-width="0.4" stroke-linejoin="miter">doesn’t</text>
<text transform="translate(213.10,1155.3) scale(0.7264,1)" font-family='"Liberation Sans", sans-serif' font-size="32.5" font-weight="bold" letter-spacing="1.0" fill="#000" stroke="#000" stroke-width="0.4" stroke-linejoin="miter">doesn’t</text>
<text transform="translate(213.80,1155.3) scale(0.7264,1)" font-family='"Liberation Sans", sans-serif' font-size="32.5" font-weight="bold" letter-spacing="1.0" fill="#000" stroke="#000" stroke-width="0.4" stroke-linejoin="miter">doesn’t</text>
<text transform="translate(309.40,1155.3) scale(0.7340,1)" font-family='"Liberation Sans", sans-serif' font-size="32.5" font-weight="bold" letter-spacing="1.0" fill="#000" stroke="#000" stroke-width="0.4" stroke-linejoin="miter">directly</text>
<text transform="translate(310.10,1155.3) scale(0.7340,1)" font-family='"Liberation Sans", sans-serif' font-size="32.5" font-weight="bold" letter-spacing="1.0" fill="#000" stroke="#000" stroke-width="0.4" stroke-linejoin="miter">directly</text>
<text transform="translate(310.80,1155.3) scale(0.7340,1)" font-family='"Liberation Sans", sans-serif' font-size="32.5" font-weight="bold" letter-spacing="1.0" fill="#000" stroke="#000" stroke-width="0.4" stroke-linejoin="miter">directly</text>
<text transform="translate(408.60,1155.3) scale(0.7537,1)" font-family='"Liberation Sans", sans-serif' font-size="32.5" font-weight="bold" letter-spacing="1.0" fill="#000" stroke="#000" stroke-width="0.4" stroke-linejoin="miter">compute</text>
<text transform="translate(409.30,1155.3) scale(0.7537,1)" font-family='"Liberation Sans", sans-serif' font-size="32.5" font-weight="bold" letter-spacing="1.0" fill="#000" stroke="#000" stroke-width="0.4" stroke-linejoin="miter">compute</text>
<text transform="translate(410.00,1155.3) scale(0.7537,1)" font-family='"Liberation Sans", sans-serif' font-size="32.5" font-weight="bold" letter-spacing="1.0" fill="#000" stroke="#000" stroke-width="0.4" stroke-linejoin="miter">compute</text>
<text transform="translate(522.40,1155.3) scale(0.6716,1)" font-family='"Liberation Sans", sans-serif' font-size="32.5" font-weight="bold" letter-spacing="1.0" fill="#000" stroke="#000" stroke-width="0.4" stroke-linejoin="miter">cost</text>
<text transform="translate(523.10,1155.3) scale(0.6716,1)" font-family='"Liberation Sans", sans-serif' font-size="32.5" font-weight="bold" letter-spacing="1.0" fill="#000" stroke="#000" stroke-width="0.4" stroke-linejoin="miter">cost</text>
<text transform="translate(523.80,1155.3) scale(0.6716,1)" font-family='"Liberation Sans", sans-serif' font-size="32.5" font-weight="bold" letter-spacing="1.0" fill="#000" stroke="#000" stroke-width="0.4" stroke-linejoin="miter">cost</text>
<text transform="translate(611.80,1155.3) scale(0.8006,1)" font-family='"Liberation Sans", sans-serif' font-size="32.5" font-weight="bold" letter-spacing="1.0" fill="#000" stroke="#000" stroke-width="0.4" stroke-linejoin="miter">it</text>
<text transform="translate(612.50,1155.3) scale(0.8006,1)" font-family='"Liberation Sans", sans-serif' font-size="32.5" font-weight="bold" letter-spacing="1.0" fill="#000" stroke="#000" stroke-width="0.4" stroke-linejoin="miter">it</text>
<text transform="translate(613.20,1155.3) scale(0.8006,1)" font-family='"Liberation Sans", sans-serif' font-size="32.5" font-weight="bold" letter-spacing="1.0" fill="#000" stroke="#000" stroke-width="0.4" stroke-linejoin="miter">it</text>
<text transform="translate(636.40,1155.3) scale(0.7591,1)" font-family='"Liberation Sans", sans-serif' font-size="32.5" font-weight="bold" letter-spacing="1.0" fill="#000" stroke="#000" stroke-width="0.4" stroke-linejoin="miter">outputs</text>
<text transform="translate(637.10,1155.3) scale(0.7591,1)" font-family='"Liberation Sans", sans-serif' font-size="32.5" font-weight="bold" letter-spacing="1.0" fill="#000" stroke="#000" stroke-width="0.4" stroke-linejoin="miter">outputs</text>
<text transform="translate(637.80,1155.3) scale(0.7591,1)" font-family='"Liberation Sans", sans-serif' font-size="32.5" font-weight="bold" letter-spacing="1.0" fill="#000" stroke="#000" stroke-width="0.4" stroke-linejoin="miter">outputs</text>
<text transform="translate(740.10,1155.3) scale(0.7886,1)" font-family='"Liberation Sans", sans-serif' font-size="32.5" font-weight="bold" letter-spacing="1.0" fill="#000" stroke="#000" stroke-width="0.4" stroke-linejoin="miter">27</text>
<text transform="translate(740.80,1155.3) scale(0.7886,1)" font-family='"Liberation Sans", sans-serif' font-size="32.5" font-weight="bold" letter-spacing="1.0" fill="#000" stroke="#000" stroke-width="0.4" stroke-linejoin="miter">27</text>
<text transform="translate(741.50,1155.3) scale(0.7886,1)" font-family='"Liberation Sans", sans-serif' font-size="32.5" font-weight="bold" letter-spacing="1.0" fill="#000" stroke="#000" stroke-width="0.4" stroke-linejoin="miter">27</text>
<text transform="translate(775.40,1155.3) scale(0.7249,1)" font-family='"Liberation Sans", sans-serif' font-size="32.5" font-weight="bold" letter-spacing="1.0" fill="#000" stroke="#000" stroke-width="0.4" stroke-linejoin="miter">coefficients</text>
<text transform="translate(776.10,1155.3) scale(0.7249,1)" font-family='"Liberation Sans", sans-serif' font-size="32.5" font-weight="bold" letter-spacing="1.0" fill="#000" stroke="#000" stroke-width="0.4" stroke-linejoin="miter">coefficients</text>
<text transform="translate(776.80,1155.3) scale(0.7249,1)" font-family='"Liberation Sans", sans-serif' font-size="32.5" font-weight="bold" letter-spacing="1.0" fill="#000" stroke="#000" stroke-width="0.4" stroke-linejoin="miter">coefficients</text>
<text transform="translate(923.50,1155.3) scale(0.7319,1)" font-family='"Liberation Sans", sans-serif' font-size="32.5" font-weight="bold" letter-spacing="1.0" fill="#000" stroke="#000" stroke-width="0.4" stroke-linejoin="miter">that</text>
<text transform="translate(924.20,1155.3) scale(0.7319,1)" font-family='"Liberation Sans", sans-serif' font-size="32.5" font-weight="bold" letter-spacing="1.0" fill="#000" stroke="#000" stroke-width="0.4" stroke-linejoin="miter">that</text>
<text transform="translate(924.90,1155.3) scale(0.7319,1)" font-family='"Liberation Sans", sans-serif' font-size="32.5" font-weight="bold" letter-spacing="1.0" fill="#000" stroke="#000" stroke-width="0.4" stroke-linejoin="miter">that</text>
<text transform="translate(979.00,1155.3) scale(0.7872,1)" font-family='"Liberation Sans", sans-serif' font-size="32.5" font-weight="bold" letter-spacing="1.0" fill="#000" stroke="#000" stroke-width="0.4" stroke-linejoin="miter">are</text>
<text transform="translate(979.70,1155.3) scale(0.7872,1)" font-family='"Liberation Sans", sans-serif' font-size="32.5" font-weight="bold" letter-spacing="1.0" fill="#000" stroke="#000" stroke-width="0.4" stroke-linejoin="miter">are</text>
<text transform="translate(980.40,1155.3) scale(0.7872,1)" font-family='"Liberation Sans", sans-serif' font-size="32.5" font-weight="bold" letter-spacing="1.0" fill="#000" stroke="#000" stroke-width="0.4" stroke-linejoin="miter">are</text>
<text transform="translate(1027.60,1155.3) scale(0.7645,1)" font-family='"Liberation Sans", sans-serif' font-size="32.5" font-weight="bold" letter-spacing="1.0" fill="#000" stroke="#000" stroke-width="0.4" stroke-linejoin="miter">plugged</text>
<text transform="translate(1028.30,1155.3) scale(0.7645,1)" font-family='"Liberation Sans", sans-serif' font-size="32.5" font-weight="bold" letter-spacing="1.0" fill="#000" stroke="#000" stroke-width="0.4" stroke-linejoin="miter">plugged</text>
<text transform="translate(1029.00,1155.3) scale(0.7645,1)" font-family='"Liberation Sans", sans-serif' font-size="32.5" font-weight="bold" letter-spacing="1.0" fill="#000" stroke="#000" stroke-width="0.4" stroke-linejoin="miter">plugged</text>
<text transform="translate(1135.40,1155.3) scale(0.7800,1)" font-family='"Liberation Sans", sans-serif' font-size="32.5" font-weight="bold" letter-spacing="1.0" fill="#000" stroke="#000" stroke-width="0.4" stroke-linejoin="miter">into</text>
<text transform="translate(1136.10,1155.3) scale(0.7800,1)" font-family='"Liberation Sans", sans-serif' font-size="32.5" font-weight="bold" letter-spacing="1.0" fill="#000" stroke="#000" stroke-width="0.4" stroke-linejoin="miter">into</text>
<text transform="translate(1136.80,1155.3) scale(0.7800,1)" font-family='"Liberation Sans", sans-serif' font-size="32.5" font-weight="bold" letter-spacing="1.0" fill="#000" stroke="#000" stroke-width="0.4" stroke-linejoin="miter">into</text>
<text transform="translate(1192.50,1155.3) scale(0.6417,1)" font-family='"Liberation Sans", sans-serif' font-size="32.5" font-weight="bold" letter-spacing="1.0" fill="#000" stroke="#000" stroke-width="0.4" stroke-linejoin="miter">a</text>
<text transform="translate(1193.20,1155.3) scale(0.6417,1)" font-family='"Liberation Sans", sans-serif' font-size="32.5" font-weight="bold" letter-spacing="1.0" fill="#000" stroke="#000" stroke-width="0.4" stroke-linejoin="miter">a</text>
<text transform="translate(1193.90,1155.3) scale(0.6417,1)" font-family='"Liberation Sans", sans-serif' font-size="32.5" font-weight="bold" letter-spacing="1.0" fill="#000" stroke="#000" stroke-width="0.4" stroke-linejoin="miter">a</text>
<text transform="translate(1211.80,1155.3) scale(0.7737,1)" font-family='"Liberation Sans", sans-serif' font-size="32.5" font-weight="bold" letter-spacing="1.0" fill="#000" stroke="#000" stroke-width="0.4" stroke-linejoin="miter">hand-crafted</text>
<text transform="translate(1212.50,1155.3) scale(0.7737,1)" font-family='"Liberation Sans", sans-serif' font-size="32.5" font-weight="bold" letter-spacing="1.0" fill="#000" stroke="#000" stroke-width="0.4" stroke-linejoin="miter">hand-crafted</text>
<text transform="translate(1213.20,1155.3) scale(0.7737,1)" font-family='"Liberation Sans", sans-serif' font-size="32.5" font-weight="bold" letter-spacing="1.0" fill="#000" stroke="#000" stroke-width="0.4" stroke-linejoin="miter">hand-crafted</text>
<text transform="translate(1379.80,1155.3) scale(0.6659,1)" font-family='"Liberation Sans", sans-serif' font-size="32.5" font-weight="bold" letter-spacing="1.0" fill="#000" stroke="#000" stroke-width="0.4" stroke-linejoin="miter">cost</text>
<text transform="translate(1380.50,1155.3) scale(0.6659,1)" font-family='"Liberation Sans", sans-serif' font-size="32.5" font-weight="bold" letter-spacing="1.0" fill="#000" stroke="#000" stroke-width="0.4" stroke-linejoin="miter">cost</text>
<text transform="translate(1381.20,1155.3) scale(0.6659,1)" font-family='"Liberation Sans", sans-serif' font-size="32.5" font-weight="bold" letter-spacing="1.0" fill="#000" stroke="#000" stroke-width="0.4" stroke-linejoin="miter">cost</text>
<text transform="translate(1434.80,1155.3) scale(0.7782,1)" font-family='"Liberation Sans", sans-serif' font-size="32.5" font-weight="bold" letter-spacing="1.0" fill="#000" stroke="#000" stroke-width="0.4" stroke-linejoin="miter">model</text>
<text transform="translate(1435.50,1155.3) scale(0.7782,1)" font-family='"Liberation Sans", sans-serif' font-size="32.5" font-weight="bold" letter-spacing="1.0" fill="#000" stroke="#000" stroke-width="0.4" stroke-linejoin="miter">model</text>
<text transform="translate(1436.20,1155.3) scale(0.7782,1)" font-family='"Liberation Sans", sans-serif' font-size="32.5" font-weight="bold" letter-spacing="1.0" fill="#000" stroke="#000" stroke-width="0.4" stroke-linejoin="miter">model</text>
<text transform="translate(1888.40,1185.4) scale(0.7523,1)" font-family='"Liberation Sans", sans-serif' font-size="25" font-weight="bold" letter-spacing="0.7" fill="#000" stroke="#000" stroke-width="0.3" stroke-linejoin="miter">Stanford</text>
<text transform="translate(1889.40,1185.4) scale(0.7523,1)" font-family='"Liberation Sans", sans-serif' font-size="25" font-weight="bold" letter-spacing="0.7" fill="#000" stroke="#000" stroke-width="0.3" stroke-linejoin="miter">Stanford</text>
<text transform="translate(1975.60,1185.4) scale(0.6859,1)" font-family='"Liberation Sans", sans-serif' font-size="25" font-weight="bold" letter-spacing="0.7" fill="#000" stroke="#000" stroke-width="0.3" stroke-linejoin="miter">CS149,</text>
<text transform="translate(1976.60,1185.4) scale(0.6859,1)" font-family='"Liberation Sans", sans-serif' font-size="25" font-weight="bold" letter-spacing="0.7" fill="#000" stroke="#000" stroke-width="0.3" stroke-linejoin="miter">CS149,</text>
<text transform="translate(2040.80,1185.4) scale(0.7128,1)" font-family='"Liberation Sans", sans-serif' font-size="25" font-weight="bold" letter-spacing="0.7" fill="#000" stroke="#000" stroke-width="0.3" stroke-linejoin="miter">Fall</text>
<text transform="translate(2041.80,1185.4) scale(0.7128,1)" font-family='"Liberation Sans", sans-serif' font-size="25" font-weight="bold" letter-spacing="0.7" fill="#000" stroke="#000" stroke-width="0.3" stroke-linejoin="miter">Fall</text>
<text transform="translate(2077.70,1185.4) scale(0.7432,1)" font-family='"Liberation Sans", sans-serif' font-size="25" font-weight="bold" letter-spacing="0.7" fill="#000" stroke="#000" stroke-width="0.3" stroke-linejoin="miter">2025</text>
<text transform="translate(2078.70,1185.4) scale(0.7432,1)" font-family='"Liberation Sans", sans-serif' font-size="25" font-weight="bold" letter-spacing="0.7" fill="#000" stroke="#000" stroke-width="0.3" stroke-linejoin="miter">2025</text>
<rect x="1324.9" y="190.0" width="12.7" height="178.0" fill="#000"/>
<path d="M1318.7,367.4 L1343.6,367.4 L1331.1,388.9 Z" fill="#000"/>
<rect x="1900.6" y="190.0" width="12.6" height="178.0" fill="#000"/>
<path d="M1894.5,367.2 L1919.4,367.2 L1907,388.9 Z" fill="#000"/>
<path d="M1440,420.8 L1573.1,420.8 L1573.1,461 L1560.1,461 L1560.1,432.9 L1440,432.9 Z" fill="#000"/>
<path d="M1553.8,460.2 L1578.8,460.2 L1566.3,481.4 Z" fill="#000"/>
<path d="M1790,420.6 L1658.2,420.6 L1658.2,461 L1670.6,461 L1670.6,432.8 L1790,432.8 Z" fill="#000"/>
<path d="M1651.8,459.8 L1676.9,459.8 L1664.4,481.4 Z" fill="#000"/>
<rect x="1609.3" y="510.0" width="12.3" height="217.0" fill="#000"/>
<path d="M1603.2,726.2 L1628.1,726.2 L1615.6,747.6 Z" fill="#000"/>
<rect x="1219.7" y="127.5" width="228.7" height="70.9" fill="#A5B4D4"/>
<rect x="1219.7" y="214.4" width="228.7" height="41.0" fill="#E8AAA6"/>
<rect x="1219.7" y="261.6" width="228.7" height="53.7" fill="#EE6A56"/>
<rect x="1219.7" y="321.5" width="228.7" height="35.3" fill="#E8AAA6"/>
<rect x="1219.7" y="389.2" width="228.7" height="74.8" fill="#A5B4D4"/>
<rect x="1782.8" y="127.5" width="249.0" height="70.9" fill="#A5B4D4"/>
<rect x="1782.8" y="261.9" width="249.0" height="52.3" fill="#EE6A56"/>
<rect x="1782.8" y="389.2" width="249.0" height="74.8" fill="#A5B4D4"/>
<rect x="1501.1" y="481.1" width="228.5" height="34.9" fill="#E8AAA6"/>
<rect x="1501.1" y="529.4" width="228.5" height="70.4" fill="#A5B4D4"/>
<rect x="1501.1" y="613.2" width="228.5" height="56.5" fill="#EE6A56"/>
<rect x="1501.1" y="676.3" width="228.5" height="35.0" fill="#E8AAA6"/>
<rect x="1501.1" y="747.6" width="228.5" height="70.8" fill="#A5B4D4"/>
<text x="1238.5" y="155.0" font-family='"Liberation Sans", sans-serif' font-size="23" font-weight="normal" fill="#10121f" textLength="183.9" lengthAdjust="spacingAndGlyphs" stroke="#10121f" stroke-width="0.3">schedule features</text>
<text x="1283.0" y="184.1" font-family='"Liberation Mono", monospace' font-size="19" font-weight="normal" fill="#2b3047" textLength="105.6" lengthAdjust="spacingAndGlyphs" stroke="#2b3047" stroke-width="0.45">size = 39</text>
<text x="1315.8" y="242.3" font-family='"Liberation Sans", sans-serif' font-size="23" font-weight="normal" fill="#10121f" textLength="33.2" lengthAdjust="spacingAndGlyphs" stroke="#10121f" stroke-width="0.3">log</text>
<text x="1281.4" y="287.8" font-family='"Liberation Sans", sans-serif' font-size="23" font-weight="normal" fill="#10121f" textLength="88.6" lengthAdjust="spacingAndGlyphs" stroke="#10121f" stroke-width="0.3">FC layer</text>
<text x="1245.0" y="309.7" font-family='"Liberation Mono", monospace' font-size="19" font-weight="normal" fill="#5a1a16" textLength="173.4" lengthAdjust="spacingAndGlyphs" stroke="#5a1a16" stroke-width="0.45">in = 39, out 24</text>
<text x="1302.8" y="350.0" font-family='"Liberation Sans", sans-serif' font-size="23" font-weight="normal" fill="#10121f" textLength="58.6" lengthAdjust="spacingAndGlyphs" stroke="#10121f" stroke-width="0.3">ReLU</text>
<text x="1226.6" y="418.4" font-family='"Liberation Sans", sans-serif' font-size="23" font-weight="normal" fill="#10121f" textLength="218.8" lengthAdjust="spacingAndGlyphs" stroke="#10121f" stroke-width="0.3">schedule embedding</text>
<text x="1278.6" y="449.5" font-family='"Liberation Mono", monospace' font-size="19" font-weight="normal" fill="#2b3047" textLength="103.9" lengthAdjust="spacingAndGlyphs" stroke="#2b3047" stroke-width="0.45">size = 24</text>
<text x="1808.4" y="155.0" font-family='"Liberation Sans", sans-serif' font-size="23" font-weight="normal" fill="#10121f" textLength="195.4" lengthAdjust="spacingAndGlyphs" stroke="#10121f" stroke-width="0.3">algorithm features</text>
<text x="1841.8" y="184.1" font-family='"Liberation Mono", monospace' font-size="19" font-weight="normal" fill="#2b3047" textLength="128.4" lengthAdjust="spacingAndGlyphs" stroke="#2b3047" stroke-width="0.45">size = 40x7</text>
<text x="1861.2" y="287.8" font-family='"Liberation Sans", sans-serif' font-size="23" font-weight="normal" fill="#10121f" textLength="89.5" lengthAdjust="spacingAndGlyphs" stroke="#10121f" stroke-width="0.3">FC layer</text>
<text x="1807.6" y="309.7" font-family='"Liberation Mono", monospace' font-size="19" font-weight="normal" fill="#5a1a16" textLength="207.3" lengthAdjust="spacingAndGlyphs" stroke="#5a1a16" stroke-width="0.45">in = 40x7, out = 8</text>
<text x="1791.6" y="418.5" font-family='"Liberation Sans", sans-serif' font-size="23" font-weight="normal" fill="#10121f" textLength="230.8" lengthAdjust="spacingAndGlyphs" stroke="#10121f" stroke-width="0.3">algorithm embedding</text>
<text x="1859.6" y="449.7" font-family='"Liberation Mono", monospace' font-size="19" font-weight="normal" fill="#2b3047" textLength="95.0" lengthAdjust="spacingAndGlyphs" stroke="#2b3047" stroke-width="0.45">size = 8</text>
<text x="1588.3" y="506.6" font-family='"Liberation Sans", sans-serif' font-size="23" font-weight="normal" fill="#10121f" textLength="54.0" lengthAdjust="spacingAndGlyphs" stroke="#10121f" stroke-width="0.3">stack</text>
<text x="1511.4" y="557.9" font-family='"Liberation Sans", sans-serif' font-size="23" font-weight="normal" fill="#10121f" textLength="206.0" lengthAdjust="spacingAndGlyphs" stroke="#10121f" stroke-width="0.3">stacked embedding</text>
<text x="1562.0" y="586.2" font-family='"Liberation Mono", monospace' font-size="19" font-weight="normal" fill="#2b3047" textLength="105.6" lengthAdjust="spacingAndGlyphs" stroke="#2b3047" stroke-width="0.45">size = 32</text>
<text x="1570.6" y="637.1" font-family='"Liberation Sans", sans-serif' font-size="23" font-weight="normal" fill="#10121f" textLength="88.6" lengthAdjust="spacingAndGlyphs" stroke="#10121f" stroke-width="0.3">FC layer</text>
<text x="1517.6" y="660.6" font-family='"Liberation Mono", monospace' font-size="19" font-weight="normal" fill="#5a1a16" textLength="196.4" lengthAdjust="spacingAndGlyphs" stroke="#5a1a16" stroke-width="0.45">in = 32, out = 27</text>
<text x="1586.4" y="702.8" font-family='"Liberation Sans", sans-serif' font-size="23" font-weight="normal" fill="#10121f" textLength="57.2" lengthAdjust="spacingAndGlyphs" stroke="#10121f" stroke-width="0.3">ReLU</text>
<text x="1555.0" y="777.2" font-family='"Liberation Sans", sans-serif' font-size="23" font-weight="normal" fill="#10121f" textLength="119.5" lengthAdjust="spacingAndGlyphs" stroke="#10121f" stroke-width="0.3">coefficients</text>
<text x="1562.0" y="806.0" font-family='"Liberation Mono", monospace' font-size="19" font-weight="normal" fill="#2b3047" textLength="105.0" lengthAdjust="spacingAndGlyphs" stroke="#2b3047" stroke-width="0.45">size = 27</text>
<line x1="503.4" y1="624" x2="503.4" y2="992" stroke="#cfcfcf" stroke-width="1.8"/>
<line x1="657.2" y1="624" x2="657.2" y2="992" stroke="#cfcfcf" stroke-width="1.8"/>
<line x1="811.7" y1="624" x2="811.7" y2="992" stroke="#cfcfcf" stroke-width="1.8"/>
<line x1="965.3" y1="624" x2="965.3" y2="992" stroke="#cfcfcf" stroke-width="1.8"/>
<line x1="348" y1="662.2" x2="1039.6" y2="662.2" stroke="#cfcfcf" stroke-width="1.8"/>
<line x1="348" y1="745.2" x2="1039.6" y2="745.2" stroke="#cfcfcf" stroke-width="1.8"/>
<line x1="348" y1="827.9" x2="1039.6" y2="827.9" stroke="#cfcfcf" stroke-width="1.8"/>
<line x1="348" y1="908.8" x2="1039.6" y2="908.8" stroke="#cfcfcf" stroke-width="1.8"/>
<line x1="348.3" y1="624" x2="348.3" y2="993" stroke="#c6c6c6" stroke-width="2.2"/>
<line x1="347.2" y1="992" x2="1039.6" y2="992" stroke="#c6c6c6" stroke-width="2.2"/>
<clipPath id="cp"><rect x="349" y="600" width="760" height="391"/></clipPath>
<line x1="357.4" y1="998" x2="1035.7" y2="628.2" stroke="#F9BF4C" stroke-width="5.9" clip-path="url(#cp)"/>
<g fill="#8192CB">
<circle cx="582.0" cy="867.0" r="4.5"/>
<circle cx="569.0" cy="875.0" r="4.5"/>
<circle cx="575.0" cy="875.0" r="4.5"/>
<circle cx="581.0" cy="874.0" r="4.5"/>
<circle cx="587.0" cy="875.0" r="4.5"/>
<circle cx="592.0" cy="875.0" r="4.5"/>
<circle cx="594.5" cy="879.5" r="4.5"/>
<circle cx="593.5" cy="883.0" r="4.5"/>
<circle cx="588.0" cy="885.0" r="4.5"/>
<circle cx="584.0" cy="883.0" r="4.5"/>
<circle cx="578.0" cy="882.0" r="4.5"/>
<circle cx="572.0" cy="880.0" r="4.5"/>
<circle cx="566.0" cy="880.0" r="4.5"/>
<circle cx="561.0" cy="881.0" r="4.5"/>
<circle cx="563.5" cy="885.0" r="4.5"/>
<circle cx="566.0" cy="889.5" r="4.5"/>
<circle cx="573.0" cy="892.0" r="4.5"/>
<circle cx="581.0" cy="893.5" r="4.5"/>
<circle cx="562.0" cy="889.0" r="4.5"/>
<circle cx="570.0" cy="885.0" r="4.5"/>
<circle cx="577.0" cy="887.5" r="4.5"/>
<circle cx="408.0" cy="961.7" r="4.5"/>
<circle cx="412.5" cy="960.8" r="4.5"/>
<circle cx="420.4" cy="955.1" r="4.5"/>
<circle cx="423.8" cy="957.4" r="4.5"/>
<circle cx="426.6" cy="959.6" r="4.5"/>
<circle cx="432.8" cy="947.6" r="4.5"/>
<circle cx="437.3" cy="960.8" r="4.5"/>
<circle cx="444.0" cy="959.1" r="4.5"/>
<circle cx="443.5" cy="951.8" r="4.5"/>
<circle cx="450.8" cy="953.1" r="4.5"/>
<circle cx="458.6" cy="957.2" r="4.5"/>
<circle cx="448.5" cy="938.3" r="4.5"/>
<circle cx="447.4" cy="942.8" r="4.5"/>
<circle cx="453.0" cy="926.1" r="4.5"/>
<circle cx="457.5" cy="939.4" r="4.5"/>
<circle cx="459.8" cy="938.3" r="4.5"/>
<circle cx="462.0" cy="940.5" r="4.5"/>
<circle cx="457.5" cy="943.3" r="4.5"/>
<circle cx="466.3" cy="927.6" r="4.5"/>
<circle cx="477.8" cy="942.8" r="4.5"/>
<circle cx="479.7" cy="925.9" r="4.5"/>
<circle cx="485.7" cy="936.6" r="4.5"/>
<circle cx="489.6" cy="933.8" r="4.5"/>
<circle cx="493.0" cy="935.4" r="4.5"/>
<circle cx="489.6" cy="921.4" r="4.5"/>
<circle cx="490.2" cy="927.0" r="4.5"/>
<circle cx="499.2" cy="926.4" r="4.5"/>
<circle cx="506.5" cy="925.0" r="4.5"/>
<circle cx="516.6" cy="929.3" r="4.5"/>
<circle cx="491.3" cy="909.6" r="4.5"/>
<circle cx="496.9" cy="911.8" r="4.5"/>
<circle cx="499.7" cy="907.3" r="4.5"/>
<circle cx="522.2" cy="918.0" r="4.5"/>
<circle cx="529.5" cy="914.1" r="4.5"/>
<circle cx="526.2" cy="904.5" r="4.5"/>
<circle cx="530.7" cy="907.3" r="4.5"/>
<circle cx="529.5" cy="924.2" r="4.5"/>
<circle cx="532.3" cy="926.4" r="4.5"/>
<circle cx="524.7" cy="960.8" r="4.5"/>
<circle cx="467.8" cy="886.3" r="4.5"/>
<circle cx="501.2" cy="885.3" r="4.5"/>
<circle cx="527.3" cy="887.5" r="4.5"/>
<circle cx="529.9" cy="881.6" r="4.5"/>
<circle cx="538.3" cy="885.0" r="4.5"/>
<circle cx="539.2" cy="889.2" r="4.5"/>
<circle cx="543.4" cy="903.5" r="4.5"/>
<circle cx="546.8" cy="913.7" r="4.5"/>
<circle cx="550.1" cy="914.5" r="4.5"/>
<circle cx="549.3" cy="904.4" r="4.5"/>
<circle cx="553.5" cy="905.2" r="4.5"/>
<circle cx="555.2" cy="898.0" r="4.5"/>
<circle cx="551.8" cy="890.0" r="4.5"/>
<circle cx="565.4" cy="835.8" r="4.5"/>
<circle cx="579.1" cy="855.0" r="4.5"/>
<circle cx="599.7" cy="857.0" r="4.5"/>
<circle cx="604.7" cy="858.4" r="4.5"/>
<circle cx="610.6" cy="858.4" r="4.5"/>
<circle cx="615.7" cy="854.2" r="4.5"/>
<circle cx="619.1" cy="850.8" r="4.5"/>
<circle cx="623.3" cy="847.8" r="4.5"/>
<circle cx="626.7" cy="850.0" r="4.5"/>
<circle cx="629.2" cy="846.6" r="4.5"/>
<circle cx="624.1" cy="855.0" r="4.5"/>
<circle cx="623.3" cy="863.1" r="4.5"/>
<circle cx="634.3" cy="854.5" r="4.5"/>
<circle cx="603.9" cy="866.8" r="4.5"/>
<circle cx="603.5" cy="870.2" r="4.5"/>
<circle cx="614.3" cy="868.9" r="4.5"/>
<circle cx="608.4" cy="878.3" r="4.5"/>
<circle cx="622.8" cy="876.1" r="4.5"/>
<circle cx="622.4" cy="833.1" r="4.5"/>
<circle cx="628.4" cy="828.9" r="4.5"/>
<circle cx="633.4" cy="839.0" r="4.5"/>
<circle cx="641.9" cy="841.5" r="4.5"/>
<circle cx="633.4" cy="820.8" r="4.5"/>
<circle cx="639.3" cy="822.1" r="4.5"/>
<circle cx="642.2" cy="819.6" r="4.5"/>
<circle cx="640.7" cy="825.5" r="4.5"/>
<circle cx="651.1" cy="830.2" r="4.5"/>
<circle cx="653.7" cy="834.4" r="4.5"/>
<circle cx="652.0" cy="836.5" r="4.5"/>
<circle cx="657.0" cy="842.4" r="4.5"/>
<circle cx="662.4" cy="847.4" r="4.5"/>
<circle cx="648.6" cy="871.1" r="4.5"/>
<circle cx="652.5" cy="868.5" r="4.5"/>
<circle cx="659.6" cy="815.0" r="4.5"/>
<circle cx="663.5" cy="807.4" r="4.5"/>
<circle cx="672.2" cy="819.2" r="4.5"/>
<circle cx="673.1" cy="824.6" r="4.5"/>
<circle cx="677.3" cy="823.8" r="4.5"/>
<circle cx="683.2" cy="833.4" r="4.5"/>
<circle cx="681.9" cy="802.7" r="4.5"/>
<circle cx="683.5" cy="812.0" r="4.5"/>
<circle cx="688.6" cy="774.3" r="4.5"/>
<circle cx="694.2" cy="808.6" r="4.5"/>
<circle cx="696.7" cy="812.8" r="4.5"/>
<circle cx="704.3" cy="811.1" r="4.5"/>
<circle cx="708.5" cy="809.5" r="4.5"/>
<circle cx="712.7" cy="809.5" r="4.5"/>
<circle cx="713.6" cy="801.9" r="4.5"/>
<circle cx="713.2" cy="798.0" r="4.5"/>
<circle cx="698.7" cy="798.0" r="4.5"/>
<circle cx="703.1" cy="784.1" r="4.5"/>
<circle cx="701.4" cy="822.1" r="4.5"/>
<circle cx="705.1" cy="824.6" r="4.5"/>
<circle cx="708.5" cy="827.2" r="4.5"/>
<circle cx="722.0" cy="775.2" r="4.5"/>
<circle cx="730.5" cy="783.0" r="4.5"/>
<circle cx="727.1" cy="798.5" r="4.5"/>
<circle cx="731.3" cy="799.3" r="4.5"/>
<circle cx="733.8" cy="793.4" r="4.5"/>
<circle cx="738.1" cy="790.0" r="4.5"/>
<circle cx="740.6" cy="820.9" r="4.5"/>
<circle cx="1052.2" cy="627.7" r="4.5"/>
<circle cx="995.7" cy="645.9" r="4.5"/>
<circle cx="989.8" cy="657.8" r="4.5"/>
<circle cx="946.2" cy="664.9" r="4.5"/>
<circle cx="963.6" cy="666.0" r="4.5"/>
<circle cx="973.8" cy="675.8" r="4.5"/>
<circle cx="963.1" cy="682.6" r="4.5"/>
<circle cx="926.2" cy="675.5" r="4.5"/>
<circle cx="928.2" cy="692.4" r="4.5"/>
<circle cx="938.0" cy="689.3" r="4.5"/>
<circle cx="890.2" cy="683.1" r="4.5"/>
<circle cx="878.7" cy="697.4" r="4.5"/>
<circle cx="861.5" cy="713.3" r="4.5"/>
<circle cx="864.4" cy="721.1" r="4.5"/>
<circle cx="839.6" cy="722.7" r="4.5"/>
<circle cx="837.4" cy="730.3" r="4.5"/>
<circle cx="837.0" cy="739.5" r="4.5"/>
<circle cx="846.7" cy="735.7" r="4.5"/>
<circle cx="780.2" cy="727.3" r="4.5"/>
<circle cx="746.8" cy="749.7" r="4.5"/>
<circle cx="787.3" cy="752.3" r="4.5"/>
<circle cx="784.7" cy="754.6" r="4.5"/>
<circle cx="784.2" cy="761.6" r="4.5"/>
<circle cx="820.2" cy="750.4" r="4.5"/>
<circle cx="823.2" cy="753.5" r="4.5"/>
<circle cx="826.4" cy="756.3" r="4.5"/>
<circle cx="808.0" cy="762.4" r="4.5"/>
<circle cx="817.1" cy="763.6" r="4.5"/>
<circle cx="802.8" cy="768.1" r="4.5"/>
<circle cx="771.2" cy="767.3" r="4.5"/>
<circle cx="772.1" cy="772.4" r="4.5"/>
<circle cx="761.9" cy="774.1" r="4.5"/>
<circle cx="759.1" cy="778.8" r="4.5"/>
<circle cx="769.5" cy="786.0" r="4.5"/>
<circle cx="787.3" cy="783.8" r="4.5"/>
<circle cx="744.2" cy="781.8" r="4.5"/>
<circle cx="743.4" cy="788.1" r="4.5"/>
<circle cx="745.9" cy="792.3" r="4.5"/>
<circle cx="753.5" cy="788.9" r="4.5"/>
<circle cx="754.0" cy="791.4" r="4.5"/>
<circle cx="744.6" cy="804.1" r="4.5"/>
</g>
<text x="305.5" y="670.0" font-family='"Liberation Sans", sans-serif' font-size="24" font-weight="normal" fill="#111" textLength="23.5" lengthAdjust="spacingAndGlyphs">10</text>
<text x="329.8" y="661.0" font-family='"Liberation Sans", sans-serif' font-size="15" font-weight="normal" fill="#111">4</text>
<text x="305.5" y="753.0" font-family='"Liberation Sans", sans-serif' font-size="24" font-weight="normal" fill="#111" textLength="23.5" lengthAdjust="spacingAndGlyphs">10</text>
<text x="329.8" y="744.0" font-family='"Liberation Sans", sans-serif' font-size="15" font-weight="normal" fill="#111">3</text>
<text x="305.5" y="836.0" font-family='"Liberation Sans", sans-serif' font-size="24" font-weight="normal" fill="#111" textLength="23.5" lengthAdjust="spacingAndGlyphs">10</text>
<text x="329.8" y="827.0" font-family='"Liberation Sans", sans-serif' font-size="15" font-weight="normal" fill="#111">2</text>
<text x="308.0" y="917.5" font-family='"Liberation Sans", sans-serif' font-size="24" font-weight="normal" fill="#111" textLength="23.5" lengthAdjust="spacingAndGlyphs">10</text>
<text x="323.0" y="1023.1" font-family='"Liberation Sans", sans-serif' font-size="24" font-weight="normal" fill="#111">1</text>
<text x="494.2" y="1023.1" font-family='"Liberation Sans", sans-serif' font-size="24" font-weight="normal" fill="#111" textLength="23.5" lengthAdjust="spacingAndGlyphs">10</text>
<text x="645.6" y="1023.1" font-family='"Liberation Sans", sans-serif' font-size="24" font-weight="normal" fill="#111" textLength="23.5" lengthAdjust="spacingAndGlyphs">10</text>
<text x="669.9" y="1014.1" font-family='"Liberation Sans", sans-serif' font-size="15" font-weight="normal" fill="#111">2</text>
<text x="799.5" y="1023.1" font-family='"Liberation Sans", sans-serif' font-size="24" font-weight="normal" fill="#111" textLength="23.5" lengthAdjust="spacingAndGlyphs">10</text>
<text x="823.8" y="1014.1" font-family='"Liberation Sans", sans-serif' font-size="15" font-weight="normal" fill="#111">3</text>
<text x="953.1" y="1023.1" font-family='"Liberation Sans", sans-serif' font-size="24" font-weight="normal" fill="#111" textLength="23.5" lengthAdjust="spacingAndGlyphs">10</text>
<text x="977.4" y="1014.1" font-family='"Liberation Sans", sans-serif' font-size="15" font-weight="normal" fill="#111">4</text>
<text x="564.5" y="1063.1" font-family='"Liberation Sans", sans-serif' font-size="26" font-weight="normal" fill="#111" textLength="280.5" lengthAdjust="spacingAndGlyphs" stroke="#111" stroke-width="0.3">predicted runtime (ms)</text>
<g transform="translate(275.6,962.3) rotate(-90)">
<text x="0.0" y="0.0" font-family='"Liberation Sans", sans-serif' font-size="26" font-weight="normal" fill="#111" textLength="283.4" lengthAdjust="spacingAndGlyphs" stroke="#111" stroke-width="0.3">measured runtime (ms)</text>
</g>
</svg>
</body></html>
